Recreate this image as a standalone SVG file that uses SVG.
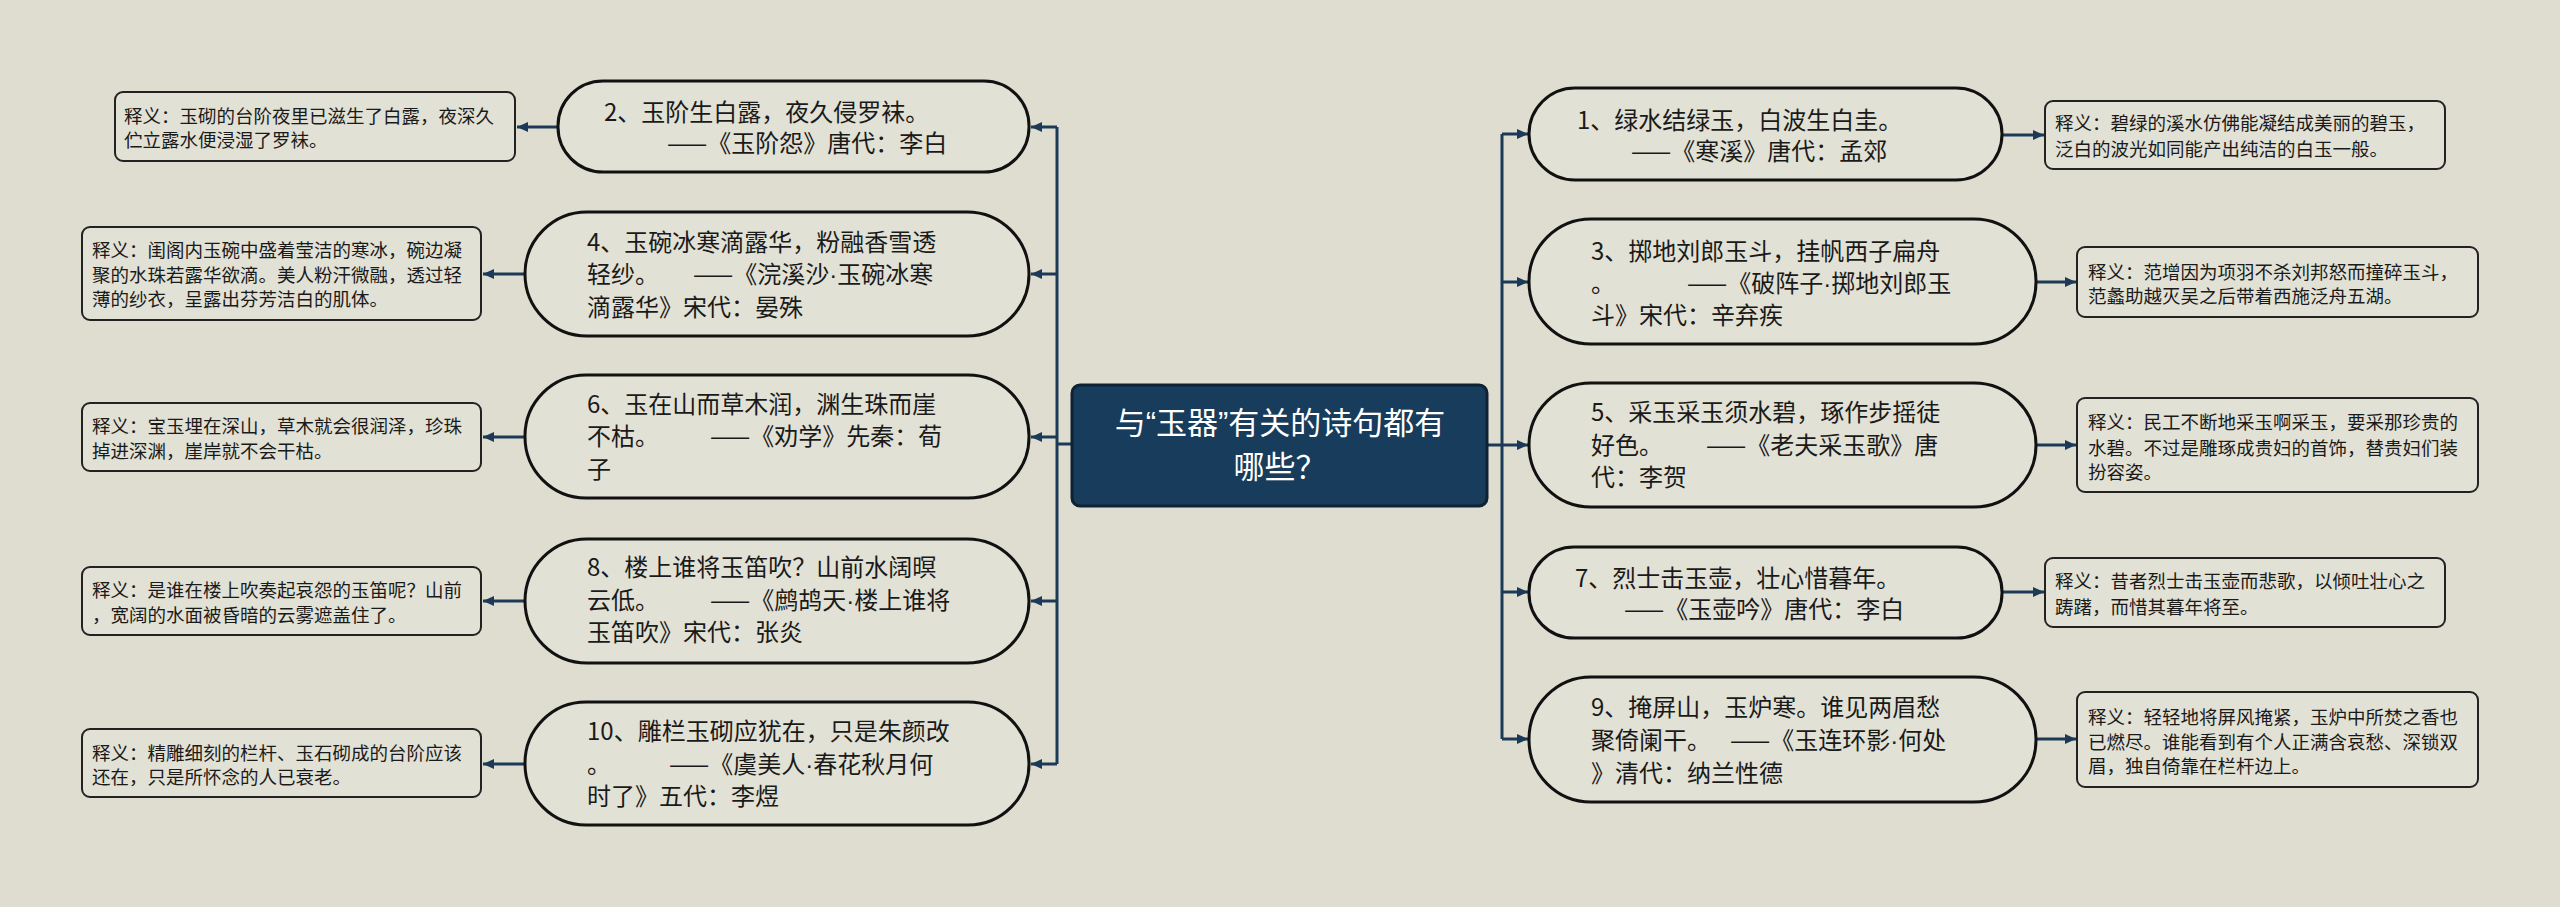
<svg xmlns="http://www.w3.org/2000/svg" width="2560" height="907" viewBox="0 0 2560 907">
<defs>
<style>
.bg{fill:#DEDDD0}
.pill{fill:#E2E1D5;stroke:#111;stroke-width:3}
.box{fill:#E2E1D5;stroke:#222;stroke-width:2}
.center{fill:#173C5C;stroke:#0E2234;stroke-width:3}
.conn{fill:none;stroke:#1C3A57;stroke-width:3}
.t{font-family:"Noto Sans CJK SC","Noto Sans",sans-serif;font-size:24px;fill:#1a1a1a}
.s{font-family:"Noto Sans CJK SC","Noto Sans",sans-serif;font-size:18.5px;fill:#1a1a1a}
.c{font-family:"Noto Sans CJK SC","Noto Sans",sans-serif;font-size:31px;fill:#fff;text-anchor:middle}
.l{font-family:"Liberation Sans",sans-serif}
</style>
<marker id="ah" markerUnits="userSpaceOnUse" markerWidth="12" markerHeight="12" refX="11" refY="6" orient="auto">
<path d="M0,1 L11,6 L0,11 z" fill="#1C3A57"/>
</marker>
</defs>
<rect class="bg" x="0" y="0" width="2560" height="907"/>

<g id="connectors">
<path class="conn" d="M1487,445 H1502 M1502,134 V739"/>
<path class="conn" d="M1502,134 H1528" marker-end="url(#ah)"/>
<path class="conn" d="M1502,282 H1528" marker-end="url(#ah)"/>
<path class="conn" d="M1502,445 H1528" marker-end="url(#ah)"/>
<path class="conn" d="M1502,592 H1528" marker-end="url(#ah)"/>
<path class="conn" d="M1502,739 H1528" marker-end="url(#ah)"/>
<path class="conn" d="M2002,135 H2044" marker-end="url(#ah)"/>
<path class="conn" d="M2036,282 H2076" marker-end="url(#ah)"/>
<path class="conn" d="M2036,445 H2076" marker-end="url(#ah)"/>
<path class="conn" d="M2002,592 H2044" marker-end="url(#ah)"/>
<path class="conn" d="M2036,739 H2076" marker-end="url(#ah)"/>
<path class="conn" d="M1072,444 H1057 M1057,127 V764"/>
<path class="conn" d="M1057,127 H1031" marker-end="url(#ah)"/>
<path class="conn" d="M1057,274 H1031" marker-end="url(#ah)"/>
<path class="conn" d="M1057,437 H1031" marker-end="url(#ah)"/>
<path class="conn" d="M1057,601 H1031" marker-end="url(#ah)"/>
<path class="conn" d="M1057,764 H1031" marker-end="url(#ah)"/>
<path class="conn" d="M558,127 H517" marker-end="url(#ah)"/>
<path class="conn" d="M525,274 H483" marker-end="url(#ah)"/>
<path class="conn" d="M525,437 H483" marker-end="url(#ah)"/>
<path class="conn" d="M525,601 H483" marker-end="url(#ah)"/>
<path class="conn" d="M525,764 H483" marker-end="url(#ah)"/>
</g>

<g id="center">
<rect class="center" x="1072" y="385" width="415" height="121" rx="8"/>
<text class="c" x="1280" y="434">与<tspan class="l">“</tspan>玉器<tspan class="l">”</tspan>有关的诗句都有</text>
<text class="c" x="1280" y="478">哪些？</text>
</g>

<g id="n1">
<rect class="pill" x="1529" y="88" width="473" height="92" rx="46"/>
<text class="t"><tspan x="1577" y="129">1、绿水结绿玉，白波生白圭。</tspan><tspan x="1631" y="160">——《寒溪》唐代：孟郊</tspan></text>
</g>
<g id="e1">
<rect class="box" x="2045" y="101" width="400" height="68" rx="8"/>
<text class="s"><tspan x="2055" y="130">释义：碧绿的溪水仿佛能凝结成美丽的碧玉，</tspan><tspan x="2055" y="156">泛白的波光如同能产出纯洁的白玉一般。</tspan></text>
</g>

<g id="n3">
<rect class="pill" x="1529" y="219" width="507" height="125" rx="62"/>
<text class="t"><tspan x="1591" y="260">3、掷地刘郎玉斗，挂帆西子扁舟</tspan><tspan x="1591" y="292">。</tspan><tspan x="1687" y="292">——《破阵子<tspan class="l">·</tspan>掷地刘郎玉</tspan><tspan x="1591" y="324">斗》宋代：辛弃疾</tspan></text>
</g>
<g id="e3">
<rect class="box" x="2077" y="247" width="401" height="70" rx="8"/>
<text class="s"><tspan x="2088" y="279">释义：范增因为项羽不杀刘邦怒而撞碎玉斗，</tspan><tspan x="2088" y="303">范蠡助越灭吴之后带着西施泛舟五湖。</tspan></text>
</g>

<g id="n5">
<rect class="pill" x="1529" y="383" width="507" height="124" rx="62"/>
<text class="t"><tspan x="1591" y="421">5、采玉采玉须水碧，琢作步摇徒</tspan><tspan x="1591" y="454">好色。</tspan><tspan x="1706" y="454">——《老夫采玉歌》唐</tspan><tspan x="1591" y="486">代：李贺</tspan></text>
</g>
<g id="e5">
<rect class="box" x="2077" y="398" width="401" height="94" rx="8"/>
<text class="s"><tspan x="2088" y="429">释义：民工不断地采玉啊采玉，要采那珍贵的</tspan><tspan x="2088" y="455">水碧。不过是雕琢成贵妇的首饰，替贵妇们装</tspan><tspan x="2088" y="479">扮容姿。</tspan></text>
</g>

<g id="n7">
<rect class="pill" x="1529" y="547" width="473" height="91" rx="45"/>
<text class="t"><tspan x="1575" y="587">7、烈士击玉壶，壮心惜暮年。</tspan><tspan x="1624" y="618">——《玉壶吟》唐代：李白</tspan></text>
</g>
<g id="e7">
<rect class="box" x="2045" y="558" width="400" height="69" rx="8"/>
<text class="s"><tspan x="2055" y="588">释义：昔者烈士击玉壶而悲歌，以倾吐壮心之</tspan><tspan x="2055" y="614">踌躇，而惜其暮年将至。</tspan></text>
</g>

<g id="n9">
<rect class="pill" x="1529" y="677" width="507" height="125" rx="62"/>
<text class="t"><tspan x="1591" y="716">9、掩屏山，玉炉寒。谁见两眉愁</tspan><tspan x="1591" y="749">聚倚阑干。</tspan><tspan x="1730" y="749">——《玉连环影<tspan class="l">·</tspan>何处</tspan><tspan x="1591" y="782">》清代：纳兰性德</tspan></text>
</g>
<g id="e9">
<rect class="box" x="2077" y="692" width="401" height="95" rx="8"/>
<text class="s"><tspan x="2088" y="724">释义：轻轻地将屏风掩紧，玉炉中所焚之香也</tspan><tspan x="2088" y="749">已燃尽。谁能看到有个人正满含哀愁、深锁双</tspan><tspan x="2088" y="773">眉，独自倚靠在栏杆边上。</tspan></text>
</g>

<g id="n2">
<rect class="pill" x="558" y="81" width="471" height="91" rx="45"/>
<text class="t"><tspan x="604" y="121">2、玉阶生白露，夜久侵罗袜。</tspan><tspan x="667" y="152">——《玉阶怨》唐代：李白</tspan></text>
</g>
<g id="e2">
<rect class="box" x="115" y="92" width="400" height="69" rx="8"/>
<text class="s"><tspan x="124" y="123">释义：玉砌的台阶夜里已滋生了白露，夜深久</tspan><tspan x="124" y="147">伫立露水便浸湿了罗袜。</tspan></text>
</g>

<g id="n4">
<rect class="pill" x="525" y="212" width="504" height="124" rx="62"/>
<text class="t"><tspan x="587" y="251">4、玉碗冰寒滴露华，粉融香雪透</tspan><tspan x="587" y="283">轻纱。</tspan><tspan x="693" y="283">——《浣溪沙<tspan class="l">·</tspan>玉碗冰寒</tspan><tspan x="587" y="316">滴露华》宋代：晏殊</tspan></text>
</g>
<g id="e4">
<rect class="box" x="82" y="227" width="399" height="93" rx="8"/>
<text class="s"><tspan x="92" y="257">释义：闺阁内玉碗中盛着莹洁的寒冰，碗边凝</tspan><tspan x="92" y="282">聚的水珠若露华欲滴。美人粉汗微融，透过轻</tspan><tspan x="92" y="306">薄的纱衣，呈露出芬芳洁白的肌体。</tspan></text>
</g>

<g id="n6">
<rect class="pill" x="525" y="375" width="504" height="123" rx="61"/>
<text class="t"><tspan x="587" y="413">6、玉在山而草木润，渊生珠而崖</tspan><tspan x="587" y="445">不枯。</tspan><tspan x="710" y="445">——《劝学》先秦：荀</tspan><tspan x="587" y="478">子</tspan></text>
</g>
<g id="e6">
<rect class="box" x="82" y="403" width="399" height="68" rx="8"/>
<text class="s"><tspan x="92" y="433">释义：宝玉埋在深山，草木就会很润泽，珍珠</tspan><tspan x="92" y="458">掉进深渊，崖岸就不会干枯。</tspan></text>
</g>

<g id="n8">
<rect class="pill" x="525" y="539" width="504" height="124" rx="62"/>
<text class="t"><tspan x="587" y="576">8、楼上谁将玉笛吹？山前水阔暝</tspan><tspan x="587" y="609">云低。</tspan><tspan x="710" y="609">——《鹧鸪天<tspan class="l">·</tspan>楼上谁将</tspan><tspan x="587" y="641">玉笛吹》宋代：张炎</tspan></text>
</g>
<g id="e8">
<rect class="box" x="82" y="567" width="399" height="68" rx="8"/>
<text class="s"><tspan x="92" y="597">释义：是谁在楼上吹奏起哀怨的玉笛呢？山前</tspan><tspan x="92" y="622">，宽阔的水面被昏暗的云雾遮盖住了。</tspan></text>
</g>

<g id="n10">
<rect class="pill" x="525" y="702" width="504" height="123" rx="61"/>
<text class="t"><tspan x="587" y="740">10、雕栏玉砌应犹在，只是朱颜改</tspan><tspan x="587" y="773">。</tspan><tspan x="669" y="773">——《虞美人<tspan class="l">·</tspan>春花秋月何</tspan><tspan x="587" y="805">时了》五代：李煜</tspan></text>
</g>
<g id="e10">
<rect class="box" x="82" y="729" width="399" height="68" rx="8"/>
<text class="s"><tspan x="92" y="760">释义：精雕细刻的栏杆、玉石砌成的台阶应该</tspan><tspan x="92" y="784">还在，只是所怀念的人已衰老。</tspan></text>
</g>
</svg>
